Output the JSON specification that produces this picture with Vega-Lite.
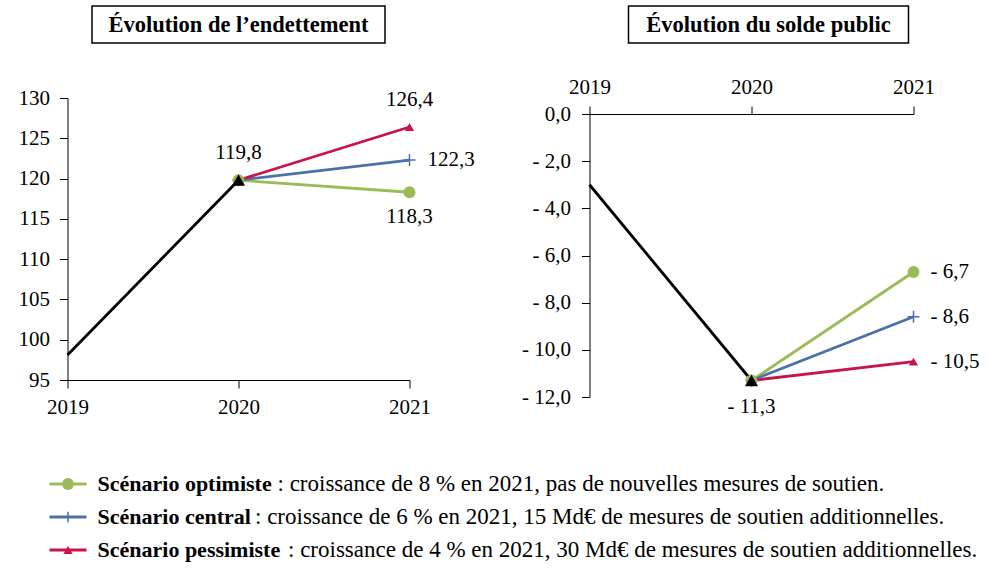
{
  "$schema": "https://vega.github.io/schema/vega-lite/v6.json",
  "background": "white",
  "padding": {"left": 17.5, "top": 5, "right": 5, "bottom": 5},
  "spacing": 49.5,
  "config": {
    "locale": {"number": {"decimal": ",", "thousands": " ", "grouping": [3], "currency": ["", " €"], "minus": "- "}},
    "font": "Liberation Serif",
    "axis": {"domainColor": "#000", "domainWidth": 1, "tickColor": "#000", "tickWidth": 1, "tickSize": 8, "labelColor": "#000", "labelFont": "Liberation Serif", "labelFontSize": 21, "grid": false},
    "text": {"font": "Liberation Serif", "fontSize": 21, "color": "#000"},
    "view": {"stroke": null}
  },
  "datasets": {
    "dette": [
      {"series": "opt", "year": 2020, "value": 119.8},
      {"series": "opt", "year": 2021, "value": 118.3},
      {"series": "cen", "year": 2020, "value": 119.8},
      {"series": "cen", "year": 2021, "value": 122.3},
      {"series": "pes", "year": 2020, "value": 119.8},
      {"series": "pes", "year": 2021, "value": 126.4},
      {"series": "hist", "year": 2019, "value": 98.1},
      {"series": "hist", "year": 2020, "value": 119.8}
    ],
    "solde": [
      {"series": "opt", "year": 2020, "value": -11.3},
      {"series": "opt", "year": 2021, "value": -6.7},
      {"series": "cen", "year": 2020, "value": -11.3},
      {"series": "cen", "year": 2021, "value": -8.6},
      {"series": "pes", "year": 2020, "value": -11.3},
      {"series": "pes", "year": 2021, "value": -10.5},
      {"series": "hist", "year": 2019, "value": -3.0},
      {"series": "hist", "year": 2020, "value": -11.3}
    ],
    "legende": [
      {"series": "opt", "bold": "Scénario optimiste", "rest": ": croissance de 8 % en 2021, pas de nouvelles mesures de soutien."},
      {"series": "cen", "bold": "Scénario central", "rest": ": croissance de 6 % en 2021, 15 Md€ de mesures de soutien additionnelles."},
      {"series": "pes", "bold": "Scénario pessimiste", "rest": ": croissance de 4 % en 2021, 30 Md€ de mesures de soutien additionnelles."}
    ]
  },
  "vconcat": [
    {
      "hconcat": [
        {
          "vconcat": [
            {
              "width": 293, "height": 37,
              "view": {"stroke": "#000", "strokeWidth": 1.5},
              "data": {"values": [{"t": "Évolution de l’endettement"}]},
              "mark": {"type": "text", "fontSize": 22.5, "fontWeight": "bold", "align": "center", "baseline": "middle"},
              "encoding": {"text": {"field": "t"}}
            },
            {
              "width": 342, "height": 282,
              "data": {"name": "dette"},
              "encoding": {
                "x": {"field": "year", "type": "ordinal", "scale": {"type": "point", "padding": 0}, "axis": {"title": null, "labelAngle": 0, "labelPadding": 8, "orient": "bottom"}},
                "y": {"field": "value", "type": "quantitative", "scale": {"domain": [95, 130], "zero": false, "nice": false}, "axis": {"title": null, "values": [95, 100, 105, 110, 115, 120, 125, 130], "format": ".0f", "labelPadding": 10}}
              },
              "layer": [
                {
                  "mark": {"type": "line", "strokeWidth": 2.8},
                  "encoding": {"color": {"field": "series", "type": "nominal", "scale": {"domain": ["hist", "opt", "cen", "pes"], "range": ["#000000", "#9BBB59", "#4A72A8", "#C8144B"]}, "legend": null}}
                },
                {
                  "transform": [{"filter": "datum.series == 'cen' && datum.year > 2019"}],
                  "mark": {"type": "point", "shape": "M-1,0L1,0M0,-1L0,1", "filled": false, "size": 144, "strokeWidth": 1.5, "color": "#4A72A8", "opacity": 1}
                },
                {
                  "transform": [{"filter": "datum.series != 'cen' && datum.year > 2019"}],
                  "mark": {"type": "point", "filled": true, "opacity": 1},
                  "encoding": {
                    "color": {"field": "series", "type": "nominal", "scale": {"domain": ["hist", "opt", "cen", "pes"], "range": ["#000000", "#9BBB59", "#4A72A8", "#C8144B"]}, "legend": null},
                    "shape": {"field": "series", "type": "nominal", "scale": {"domain": ["hist", "opt", "cen", "pes"], "range": ["triangle-up", "circle", "cross", "triangle-up"]}, "legend": null},
                    "size": {"field": "series", "type": "ordinal", "scale": {"domain": ["hist", "opt", "cen", "pes"], "range": [170, 85, 120, 115]}, "legend": null}
                  }
                },
                {
                  "transform": [{"filter": "(datum.series == 'hist' && datum.year == 2020) || (datum.series == 'pes' && datum.year == 2021)"}],
                  "mark": {"type": "text", "align": "center", "baseline": "middle", "dy": -27},
                  "encoding": {"text": {"field": "value", "type": "quantitative", "format": ".1f"}}
                },
                {
                  "transform": [{"filter": "datum.series == 'cen' && datum.year == 2021"}],
                  "mark": {"type": "text", "align": "left", "baseline": "middle", "dx": 18},
                  "encoding": {"text": {"field": "value", "type": "quantitative", "format": ".1f"}}
                },
                {
                  "transform": [{"filter": "datum.series == 'opt' && datum.year == 2021"}],
                  "mark": {"type": "text", "align": "center", "baseline": "middle", "dy": 25},
                  "encoding": {"text": {"field": "value", "type": "quantitative", "format": ".1f"}}
                }
              ]
            }
          ],
          "spacing": 55,
          "center": true,
          "bounds": "flush"
        },
        {
          "vconcat": [
            {
              "hconcat": [
                {
                  "width": 22, "height": 37,
                  "data": {"values": [{}]},
                  "mark": {"type": "point", "opacity": 0}
                },
                {
                  "width": 280, "height": 37,
                  "view": {"stroke": "#000", "strokeWidth": 1.5},
                  "data": {"values": [{"t": "Évolution du solde public"}]},
                  "mark": {"type": "text", "fontSize": 22.5, "fontWeight": "bold", "align": "center", "baseline": "middle"},
                  "encoding": {"text": {"field": "t"}}
                }
              ],
              "spacing": 16
            },
            {
              "width": 324, "height": 283,
              "data": {"name": "solde"},
              "encoding": {
                "x": {"field": "year", "type": "ordinal", "scale": {"type": "point", "padding": 0}, "axis": {"title": null, "labelAngle": 0, "labelPadding": 9, "orient": "top"}},
                "y": {"field": "value", "type": "quantitative", "scale": {"domain": [-12, 0], "zero": false, "nice": false}, "axis": {"title": null, "values": [0, -2, -4, -6, -8, -10, -12], "format": ".1f", "labelPadding": 11}}
              },
              "layer": [
                {
                  "mark": {"type": "line", "strokeWidth": 2.8},
                  "encoding": {"color": {"field": "series", "type": "nominal", "scale": {"domain": ["hist", "opt", "cen", "pes"], "range": ["#000000", "#9BBB59", "#4A72A8", "#C8144B"]}, "legend": null}}
                },
                {
                  "transform": [{"filter": "datum.series == 'cen' && datum.year > 2019"}],
                  "mark": {"type": "point", "shape": "M-1,0L1,0M0,-1L0,1", "filled": false, "size": 144, "strokeWidth": 1.5, "color": "#4A72A8", "opacity": 1}
                },
                {
                  "transform": [{"filter": "datum.series != 'cen' && datum.year > 2019"}],
                  "mark": {"type": "point", "filled": true, "opacity": 1},
                  "encoding": {
                    "color": {"field": "series", "type": "nominal", "scale": {"domain": ["hist", "opt", "cen", "pes"], "range": ["#000000", "#9BBB59", "#4A72A8", "#C8144B"]}, "legend": null},
                    "shape": {"field": "series", "type": "nominal", "scale": {"domain": ["hist", "opt", "cen", "pes"], "range": ["triangle-up", "circle", "cross", "triangle-up"]}, "legend": null},
                    "size": {"field": "series", "type": "ordinal", "scale": {"domain": ["hist", "opt", "cen", "pes"], "range": [170, 85, 120, 115]}, "legend": null}
                  }
                },
                {
                  "transform": [{"filter": "datum.series != 'hist' && datum.year == 2021"}],
                  "mark": {"type": "text", "align": "left", "baseline": "middle", "dx": 17},
                  "encoding": {"text": {"field": "value", "type": "quantitative", "format": ".1f"}}
                },
                {
                  "transform": [{"filter": "datum.series == 'hist' && datum.year == 2020"}],
                  "mark": {"type": "text", "align": "center", "baseline": "middle", "dy": 27},
                  "encoding": {"text": {"field": "value", "type": "quantitative", "format": ".1f"}}
                }
              ]
            }
          ],
          "spacing": 32
        }
      ],
      "spacing": 46
    },
    {
      "width": 1, "height": 99,
      "data": {"name": "legende"},
      "encoding": {
        "y": {"field": "series", "type": "nominal", "sort": ["opt", "cen", "pes"], "axis": null, "scale": {"type": "point", "padding": 0.5}}
      },
      "layer": [
        {
          "mark": {"type": "point", "shape": "M-1,0L1,0", "size": 1369, "filled": false, "strokeWidth": 3, "opacity": 1},
          "encoding": {"color": {"field": "series", "type": "nominal", "scale": {"domain": ["hist", "opt", "cen", "pes"], "range": ["#000000", "#9BBB59", "#4A72A8", "#C8144B"]}, "legend": null}}
        },
        {
          "transform": [{"filter": "datum.series == 'cen'"}],
          "mark": {"type": "point", "shape": "M-1,0L1,0M0,-1L0,1", "filled": false, "size": 110, "strokeWidth": 1.5, "color": "#4A72A8", "opacity": 1}
        },
        {
          "transform": [{"filter": "datum.series != 'cen'"}],
          "mark": {"type": "point", "filled": true, "opacity": 1},
          "encoding": {
            "color": {"field": "series", "type": "nominal", "scale": {"domain": ["hist", "opt", "cen", "pes"], "range": ["#000000", "#9BBB59", "#4A72A8", "#C8144B"]}, "legend": null},
            "shape": {"field": "series", "type": "nominal", "scale": {"domain": ["hist", "opt", "cen", "pes"], "range": ["triangle-up", "circle", "cross", "triangle-up"]}, "legend": null},
            "size": {"field": "series", "type": "ordinal", "scale": {"domain": ["hist", "opt", "cen", "pes"], "range": [150, 70, 100, 100]}, "legend": null}
          }
        },
        {
          "mark": {"type": "text", "align": "left", "baseline": "middle", "dx": 29.5, "fontWeight": "bold", "fontSize": 22},
          "encoding": {"text": {"field": "bold"}}
        },
        {
          "transform": [{"filter": "datum.series == 'opt'"}],
          "mark": {"type": "text", "align": "left", "baseline": "middle", "dx": 209.5, "fontSize": 23},
          "encoding": {"text": {"field": "rest"}}
        },
        {
          "transform": [{"filter": "datum.series == 'cen'"}],
          "mark": {"type": "text", "align": "left", "baseline": "middle", "dx": 187, "fontSize": 23},
          "encoding": {"text": {"field": "rest"}}
        },
        {
          "transform": [{"filter": "datum.series == 'pes'"}],
          "mark": {"type": "text", "align": "left", "baseline": "middle", "dx": 220, "fontSize": 23},
          "encoding": {"text": {"field": "rest"}}
        }
      ]
    }
  ]
}
